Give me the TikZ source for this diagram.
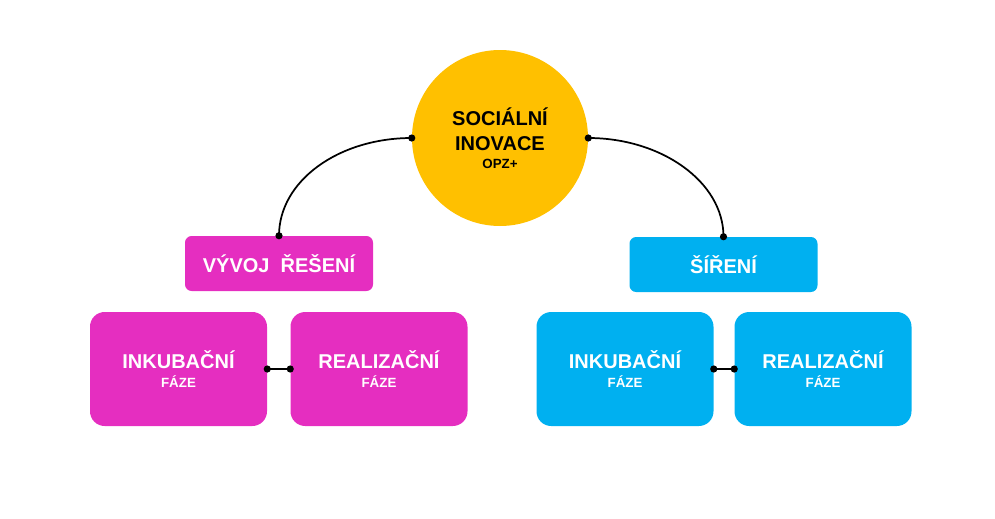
\documentclass[tikz,border=0pt]{standalone}
\usepackage{fontspec}
\setmainfont{Liberation Sans}
\usetikzlibrary{calc}
\definecolor{opzYellow}{RGB}{255,192,0}
\definecolor{opzPink}{RGB}{229,46,192}
\definecolor{opzBlue}{RGB}{0,176,240}
\newcommand{\phSub}[1]{{\fontsize{10}{12}\selectfont #1}}

\begin{document}
\begin{tikzpicture}[x=0.75pt,y=-0.75pt,
    every node/.style={font=\bfseries\fontsize{15}{18.75}\selectfont,align=center,inner sep=0pt},
    hub/.style={circle,fill=opzYellow,minimum size=132pt},
    branch/.style={rounded corners=5pt,minimum width=141pt,minimum height=41.25pt,text=white},
    phase/.style={rounded corners=11pt,minimum width=132.75pt,minimum height=85.5pt,text=white},
    link/.style={line width=1.3pt},
    dot/.style={fill=black}]
      \useasboundingbox (0,0) rectangle (995,518);
      \node[hub] (si) at (500,138) {SOCIÁLNÍ\\INOVACE\\[-5.25pt]\phSub{OPZ+}};
      \node[branch,fill=opzPink] (vr) at (279,263.5) {VÝVOJ\ \ ŘEŠENÍ};
      \node[branch,fill=opzBlue] (sr) at (723.5,264.5) {ŠÍŘENÍ};
      \node[phase,fill=opzPink] (vri) at (178.5,369) {INKUBAČNÍ\\[-4.5pt]\phSub{FÁZE}};
      \node[phase,fill=opzPink] (vrr) at (379,369) {REALIZAČNÍ\\[-4.5pt]\phSub{FÁZE}};
      \node[phase,fill=opzBlue] (sri) at (625,369) {INKUBAČNÍ\\[-4.5pt]\phSub{FÁZE}};
      \node[phase,fill=opzBlue] (srr) at (823,369) {REALIZAČNÍ\\[-4.5pt]\phSub{FÁZE}};
      \draw[link] (si.west) .. controls ($(si.west)+(-73,0)$) and ($(vr.north)+(0,-55)$) .. (vr.north);
      \draw[link] (si.east) .. controls ($(si.east)+(73,0)$) and ($(sr.north)+(0,-55)$) .. (sr.north);
      \draw[link,line width=1.8pt] (vri.east) -- (vrr.west);
      \draw[link,line width=1.8pt] (sri.east) -- (srr.west);
      \foreach \p in {si.west,si.east,vr.north,sr.north,vri.east,vrr.west,sri.east,srr.west}
        \fill[dot] (\p) circle (2.7pt);
    \end{tikzpicture}
\end{document}
